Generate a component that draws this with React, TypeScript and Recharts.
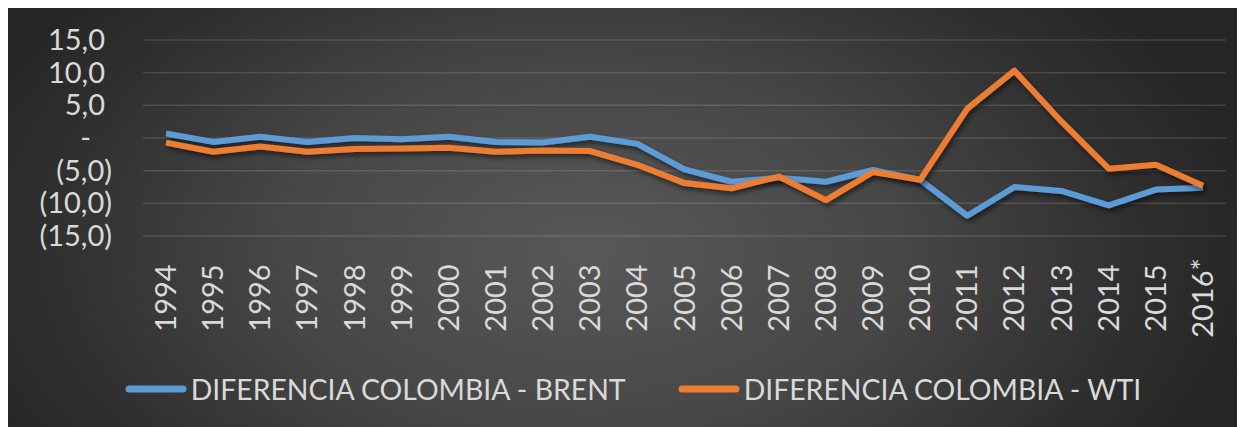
import React from 'react';
import { LineChart, Line, XAxis, YAxis, CartesianGrid, Legend } from 'recharts';

const years = [
  '1994', '1995', '1996', '1997', '1998', '1999', '2000', '2001', '2002', '2003', '2004', '2005',
  '2006', '2007', '2008', '2009', '2010', '2011', '2012', '2013', '2014', '2015', '2016*',
];

// Diferencia Colombia - Brent
const brent = [
  0.7, -0.6, 0.2, -0.6, 0.0, -0.2, 0.2, -0.6, -0.7, 0.2, -0.9, -4.8,
  -6.7, -6.1, -6.7, -4.9, -6.4, -11.9, -7.5, -8.1, -10.3, -7.9, -7.6,
];

// Diferencia Colombia - WTI
const wti = [
  -0.7, -2.1, -1.3, -2.1, -1.7, -1.6, -1.5, -2.1, -1.9, -2.0, -4.1, -6.9,
  -7.7, -5.9, -9.5, -5.2, -6.4, 4.5, 10.3, 2.5, -4.7, -4.1, -7.3,
];

const yTicks = [-15, -10, -5, 0, 5, 10, 15];

const seriesNames = ['DIFERENCIA COLOMBIA - BRENT', 'DIFERENCIA COLOMBIA - WTI'];
const seriesColors = ['#5B9BD5', '#ED7D31'];

const data = years.map((year, i) => ({ year, brent: brent[i], wti: wti[i] }));

const FONT = 'Lato, "Open Sans", sans-serif';
const TEXT = '#d9d9d9';

const fmt = (v: number) => {
  if (v === 0) return '-';
  const s = Math.abs(v).toFixed(1).replace('.', ',');
  return v < 0 ? `(${s})` : s;
};

const YTick = (props: any) => {
  const { x, y, payload } = props;
  const v = payload.value as number;
  let endX = x - 38;
  if (v < 0) endX = x - 31;
  if (v === 0) endX = x - 52;
  return (
    <text x={endX} y={y} dy={10} textAnchor="end" fill={TEXT} fontFamily={FONT} fontSize={29}>
      {fmt(v)}
    </text>
  );
};

const XTick = (props: any) => {
  const { x, y, payload } = props;
  return (
    <text
      transform={`translate(${x + 10},${y + 62}) rotate(-90)`}
      textAnchor="middle"
      fill={TEXT}
      fontFamily={FONT}
      fontSize={29}
    >
      {payload.value}
    </text>
  );
};

const LegendContent = () => (
  <div
    style={{
      height: 91,
      display: 'flex',
      alignItems: 'center',
      justifyContent: 'center',
      paddingTop: 14,
      paddingLeft: 32,
      boxSizing: 'border-box',
      fontFamily: FONT,
      fontSize: 28.4,
      color: TEXT,
    }}
  >
    {seriesNames.map((name, i) => (
      <div key={name} style={{ display: 'flex', alignItems: 'center', marginRight: i === 0 ? 52 : 0 }}>
        <svg width={62} height={10} style={{ marginRight: 4 }}>
          <line x1={4} y1={5} x2={58} y2={5} stroke={seriesColors[i]} strokeWidth={7} strokeLinecap="round" />
        </svg>
        <span>{name}</span>
      </div>
    ))}
  </div>
);

export default function App() {
  return (
    <div
      style={{
        width: 1237,
        height: 422,
        marginTop: -3,
        background:
          'radial-gradient(ellipse 55% 95% at 47% 58%, #585858 0%, #474747 45%, #2f2f2f 80%, #252525 100%)',
      }}
    >
      <LineChart width={1237} height={422} data={data} margin={{ top: 35, right: 19, left: 0, bottom: 0 }}>
        <defs>
          <filter id="lineShadow" x="-5%" y="-30%" width="110%" height="160%">
            <feDropShadow dx="2" dy="3" stdDeviation="2.5" floodColor="#000" floodOpacity="0.55" />
          </filter>
        </defs>
        <CartesianGrid vertical={false} stroke="#ffffff" strokeOpacity={0.13} strokeWidth={1.5} />
        <XAxis
          dataKey="year"
          axisLine={false}
          tickLine={false}
          tickSize={0}
          tickMargin={0}
          height={100}
          interval={0}
          padding={{ left: 23, right: 23 }}
          tick={<XTick />}
        />
        <YAxis
          domain={[-15, 15]}
          ticks={yTicks}
          axisLine={false}
          tickLine={false}
          tickSize={0}
          tickMargin={0}
          width={135}
          tick={<YTick />}
        />
        <Legend verticalAlign="bottom" content={<LegendContent />} />
        <Line
          type="linear"
          dataKey="brent"
          name={seriesNames[0]}
          stroke={seriesColors[0]}
          strokeWidth={6}
          strokeLinejoin="round"
          dot={false}
          filter="url(#lineShadow)"
          isAnimationActive={false}
        />
        <Line
          type="linear"
          dataKey="wti"
          name={seriesNames[1]}
          stroke={seriesColors[1]}
          strokeWidth={6}
          strokeLinejoin="round"
          dot={false}
          filter="url(#lineShadow)"
          isAnimationActive={false}
        />
      </LineChart>
    </div>
  );
}
